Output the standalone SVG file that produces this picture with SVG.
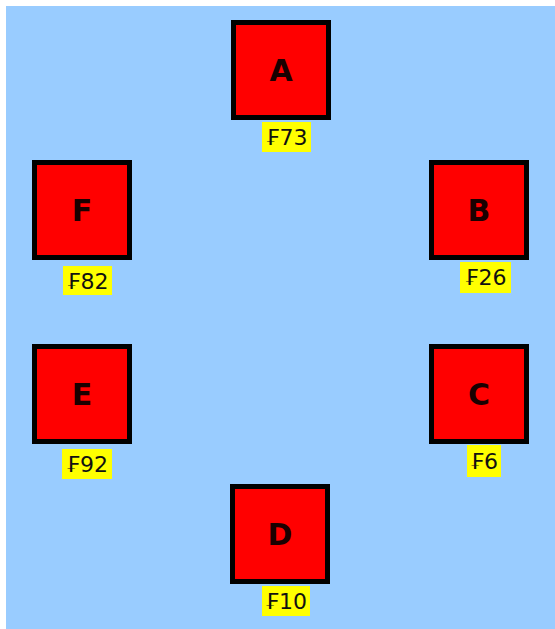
<svg xmlns="http://www.w3.org/2000/svg" width="555" height="629" viewBox="0 0 555 629">
<style>
.box{fill:#ff0000;stroke:#000;stroke-width:5}
.name{font-family:"DejaVu Sans",Verdana,sans-serif;font-weight:bold;font-size:30px;fill:#1a0000;text-anchor:middle}
.lbg{fill:#ffff00}
.lbl{font-family:"DejaVu Sans",Verdana,sans-serif;font-size:22px;fill:#111;text-anchor:middle}
</style>
<rect x="6" y="6" width="549" height="623" fill="#99ccff"/>
<g id="connectors"></g>
<g id="node-A">
<rect class="box" x="233.5" y="22.5" width="95" height="95"/>
<text class="name" x="281" y="81">A</text>
<rect class="lbg" x="262" y="122" width="49" height="30"/>
<text class="lbl" x="286.5" y="145">₣73</text>
</g>
<g id="node-B">
<rect class="box" x="431.5" y="162.5" width="95" height="95"/>
<text class="name" x="479" y="221">B</text>
<rect class="lbg" x="460" y="262" width="51" height="31"/>
<text class="lbl" x="485.5" y="285">₣26</text>
</g>
<g id="node-C">
<rect class="box" x="431.5" y="346.5" width="95" height="95"/>
<text class="name" x="479" y="405">C</text>
<rect class="lbg" x="467" y="445" width="34" height="32"/>
<text class="lbl" x="484" y="469">₣6</text>
</g>
<g id="node-D">
<rect class="box" x="232.5" y="486.5" width="95" height="95"/>
<text class="name" x="280" y="545">D</text>
<rect class="lbg" x="262" y="586" width="48" height="30"/>
<text class="lbl" x="286" y="609">₣10</text>
</g>
<g id="node-E">
<rect class="box" x="34.5" y="346.5" width="95" height="95"/>
<text class="name" x="82" y="405">E</text>
<rect class="lbg" x="62" y="449" width="50" height="30"/>
<text class="lbl" x="87" y="472">₣92</text>
</g>
<g id="node-F">
<rect class="box" x="34.5" y="162.5" width="95" height="95"/>
<text class="name" x="82" y="221">F</text>
<rect class="lbg" x="63" y="266" width="49" height="29"/>
<text class="lbl" x="87.5" y="289">₣82</text>
</g>
</svg>
